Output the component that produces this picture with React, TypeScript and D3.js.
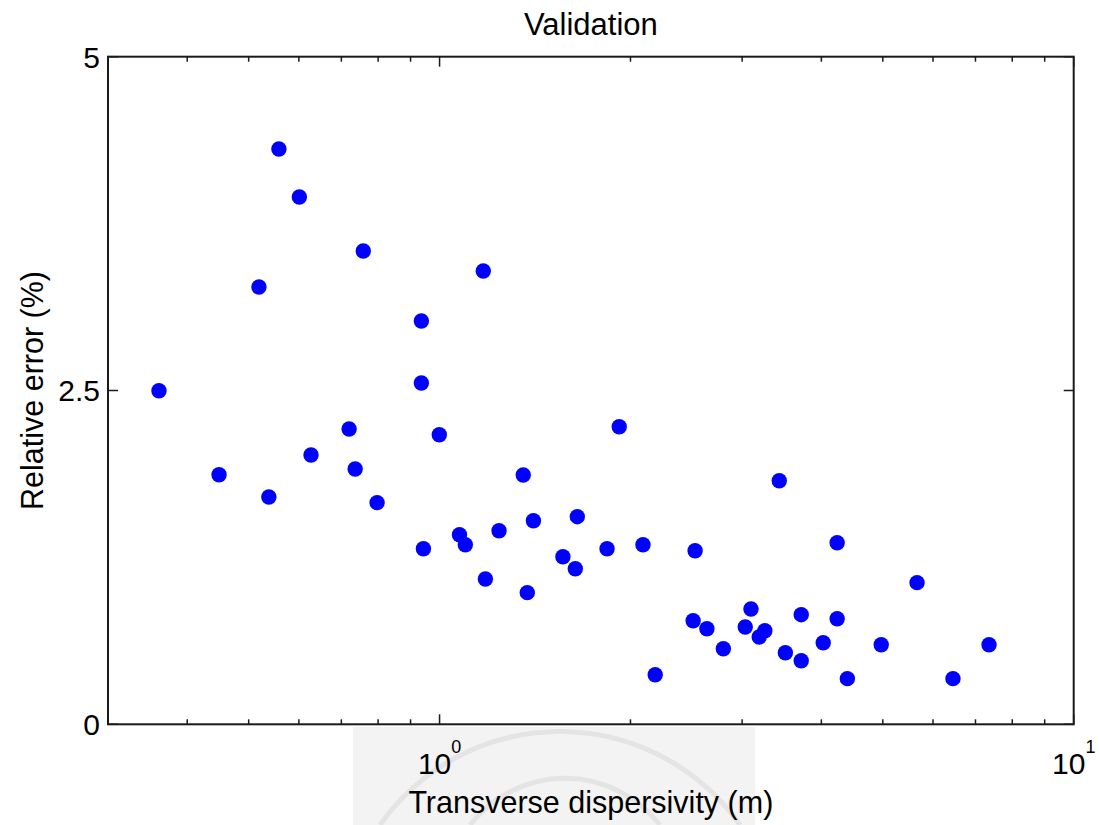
import React from "react";
import * as d3 from "d3";

const xValues: number[] = [
  0.361, 0.449, 0.519, 0.538, 0.558, 0.601, 0.627, 0.72, 0.736, 0.758,
  0.797, 0.936, 0.936, 0.943, 0.999, 1.075, 1.098, 1.172, 1.181, 1.241,
  1.355, 1.375, 1.406, 1.565, 1.637, 1.649, 1.837, 1.92, 2.093, 2.188,
  2.511, 2.529, 2.64, 2.802, 3.034, 3.098, 3.192, 3.258, 3.433, 3.51,
  3.718, 3.718, 4.027, 4.236, 4.236, 4.396, 4.971, 5.662, 6.451, 7.353,
];
const yValues: number[] = [
  2.498, 1.869, 3.275, 1.702, 4.309, 3.949, 2.017, 2.212, 1.912, 3.545,
  1.66, 3.021, 2.556, 1.315, 2.169, 1.42, 1.345, 3.395, 1.088, 1.45,
  1.867, 0.986, 1.525, 1.255, 1.165, 1.555, 1.315, 2.229, 1.345, 0.371,
  0.776, 1.3, 0.716, 0.566, 0.729, 0.864, 0.654, 0.701, 1.824, 0.536,
  0.821, 0.476, 0.611, 0.791, 1.36, 0.342, 0.596, 1.061, 0.342, 0.596,
];
const xDomain: [number, number] = [0.3, 10];
const yDomain: [number, number] = [0, 5];
const xMajorTicks: number[] = [1, 10];
const xMajorExponents: string[] = ["0", "1"];
const xMinorTicks: number[] = [0.4, 0.5, 0.6, 0.7, 0.8, 0.9, 2, 3, 4, 5, 6, 7, 8, 9];
const yTicks: number[] = [0, 2.5, 5];
const yTickLabels: string[] = ["0", "2.5", "5"];
const title = "Validation";
const xLabel = "Transverse dispersivity (m)";
const yLabel = "Relative error (%)";

const W = 1099;
const H = 825;
const left = 108;
const right = 1073.7;
const top = 56.7;
const bottom = 724.3;
const FONT = "'Liberation Sans', Arial, Helvetica, sans-serif";
const AX = "#1a1a1a";

export default function App() {
  const x = d3.scaleLog().domain(xDomain).range([left, right]);
  const y = d3.scaleLinear().domain(yDomain).range([bottom, top]);
  const pts = xValues.map((v, i) => ({ x: v, y: yValues[i] }));
  const majorLen = 10;
  const minorLen = 5;
  return (
    <svg
      width={W}
      height={H}
      style={{ position: "absolute", left: 0, top: 0, background: "#fff" }}
      fontFamily={FONT}
    >
      <rect x={0} y={0} width={W} height={H} fill="#ffffff" />
      {/* faint background seal area below the axes */}
      <rect x={353} y={727} width={402} height={98} fill="#f3f3f3" />
      <g fill="none" stroke="#e4e4e4" strokeWidth={5}>
        <path d="M 380 825 A 220 220 0 0 1 740 825" />
        <path d="M 470 825 A 120 120 0 0 1 660 825" />
      </g>

      {/* points */}
      {pts.map((p, i) => (
        <circle key={i} cx={x(p.x)} cy={y(p.y)} r={7.7} fill="#0000ff" />
      ))}

      {/* box */}
      <rect
        x={left}
        y={top}
        width={right - left}
        height={bottom - top}
        fill="none"
        stroke={AX}
        strokeWidth={2}
      />

      {/* x ticks */}
      {xMinorTicks.map((t, i) => (
        <g key={"xm" + i} stroke={AX} strokeWidth={1.5}>
          <line x1={x(t)} x2={x(t)} y1={bottom} y2={bottom - minorLen} />
          <line x1={x(t)} x2={x(t)} y1={top} y2={top + minorLen} />
        </g>
      ))}
      {xMajorTicks.map((t, i) => (
        <g key={"xM" + i}>
          <line x1={x(t)} x2={x(t)} y1={bottom} y2={bottom - majorLen} stroke={AX} strokeWidth={1.5} />
          <line x1={x(t)} x2={x(t)} y1={top} y2={top + majorLen} stroke={AX} strokeWidth={1.5} />
          <text
            x={x(t)}
            y={774}
            textAnchor="middle"
            fontSize={30}
            fill="#000"
          >
            <tspan>10</tspan>
            <tspan fontSize={18} dy={-21}>{xMajorExponents[i]}</tspan>
          </text>
        </g>
      ))}

      {/* y ticks */}
      {yTicks.map((t, i) => (
        <g key={"y" + i}>
          <line x1={left} x2={left + majorLen} y1={y(t)} y2={y(t)} stroke={AX} strokeWidth={1.5} />
          <line x1={right} x2={right - majorLen} y1={y(t)} y2={y(t)} stroke={AX} strokeWidth={1.5} />
          <text
            x={100}
            y={y(t)}
            dy="0.36em"
            textAnchor="end"
            fontSize={30}
            fill="#000"
          >
            {yTickLabels[i]}
          </text>
        </g>
      ))}

      {/* title and labels */}
      <text x={(left + right) / 2} y={34.5} textAnchor="middle" fontSize={31} fill="#000">
        {title}
      </text>
      <text x={(left + right) / 2} y={812.5} textAnchor="middle" fontSize={30.5} fill="#000">
        {xLabel}
      </text>
      <text
        transform={`translate(43, ${(top + bottom) / 2}) rotate(-90)`}
        textAnchor="middle"
        fontSize={30.5}
        fill="#000"
      >
        {yLabel}
      </text>
    </svg>
  );
}
